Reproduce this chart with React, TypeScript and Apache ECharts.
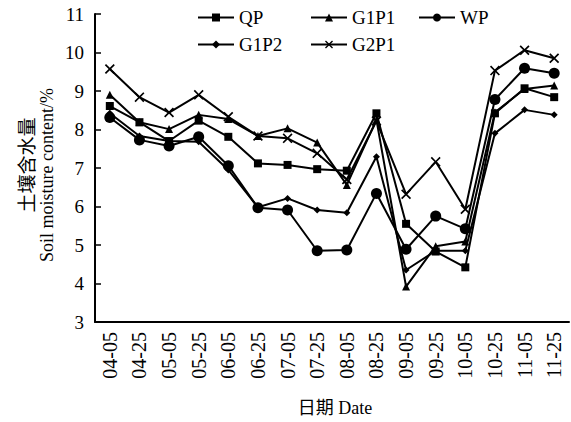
import React, { useEffect, useRef } from "react";
import * as echarts from "echarts";

const categories = ["04-05","04-25","05-05","05-25","06-05","06-25","07-05","07-25","08-05","08-25","09-05","09-25","10-05","10-25","11-05","11-25"];
const qp = [8.61, 8.19, 7.70, 8.23, 7.81, 7.12, 7.08, 6.97, 6.93, 8.42, 5.55, 4.83, 4.42, 8.42, 9.07, 8.84];
const g1p1 = [8.90, 8.19, 8.01, 8.38, 8.27, 7.83, 8.03, 7.66, 6.56, 8.25, 3.92, 4.97, 5.09, 8.45, 9.05, 9.14];
const wp = [8.31, 7.73, 7.57, 7.81, 7.06, 5.97, 5.91, 4.85, 4.87, 6.34, 4.89, 5.75, 5.42, 8.78, 9.59, 9.46];
const g1p2 = [8.42, 7.83, 7.70, 7.68, 6.95, 5.98, 6.21, 5.91, 5.84, 7.29, 4.35, 4.85, 4.85, 7.90, 8.51, 8.38];
const g2p1 = [9.57, 8.84, 8.44, 8.90, 8.33, 7.83, 7.77, 7.38, 6.70, 8.22, 6.32, 7.16, 5.93, 9.53, 10.06, 9.85];
const yTicks = [3, 4, 5, 6, 7, 8, 9, 10, 11];

const SERIF = "'Liberation Serif', 'DejaVu Serif', serif";
const CJK = "'Liberation Serif', 'Noto Sans CJK SC', serif";
const CROSS = "path://M0,1.2L1.2,0L5,3.8L8.8,0L10,1.2L6.2,5L10,8.8L8.8,10L5,6.2L1.2,10L0,8.8L3.8,5Z";

export default function App() {
  const ref = useRef<HTMLDivElement>(null);
  useEffect(() => {
    const chart = echarts.init(ref.current!, null, { renderer: "svg" });
    const mk = (name: string, data: number[], symbol: string, size: number) => ({
      name,
      type: "line",
      data,
      symbol,
      symbolSize: size,
      showAllSymbol: true,
      lineStyle: { color: "#000", width: 2 },
      itemStyle: { color: "#000" },
      z: 3,
    });
    const legendBase = {
      itemWidth: 36,
      itemHeight: 10,
      itemGap: 5,
      textStyle: { fontFamily: SERIF, fontSize: 19, color: "#000" },
      selectedMode: false as const,
      padding: 0,
    };
    chart.setOption({
      animation: false,
      backgroundColor: "#fff",
      grid: { left: 95, right: 2, top: 14, bottom: 100, containLabel: false },
      legend: [
        { ...legendBase, data: ["QP"], left: 197, top: 8 },
        { ...legendBase, data: ["G1P1"], left: 310, top: 8 },
        { ...legendBase, data: ["WP"], left: 418, top: 8 },
        { ...legendBase, data: ["G1P2"], left: 197, top: 35 },
        { ...legendBase, data: ["G2P1"], left: 310, top: 35 },
      ],
      xAxis: {
        type: "category",
        data: categories,
        boundaryGap: true,
        axisLine: { lineStyle: { color: "#000", width: 2 } },
        axisTick: { inside: true, length: 6, lineStyle: { color: "#000", width: 1.5 }, alignWithLabel: false },
        axisLabel: { rotate: 90, interval: 0, fontFamily: SERIF, fontSize: 20, color: "#000", margin: 10 },
        splitLine: { show: false },
      },
      yAxis: {
        type: "value",
        min: yTicks[0],
        max: yTicks[yTicks.length - 1],
        interval: 1,
        axisLine: { show: true, lineStyle: { color: "#000", width: 2 } },
        axisTick: { show: true, inside: true, length: 6, lineStyle: { color: "#000", width: 1.5 } },
        axisLabel: { fontFamily: SERIF, fontSize: 19, color: "#000", margin: 11 },
        splitLine: { show: false },
      },
      graphic: [
        {
          type: "text",
          x: 25,
          y: 165,
          rotation: Math.PI / 2,
          style: { text: "土壤含水量", font: "19px 'Noto Sans CJK SC'", fill: "#000", textAlign: "center", textVerticalAlign: "middle" },
        },
        {
          type: "text",
          x: 47,
          y: 175,
          rotation: Math.PI / 2,
          style: { text: "Soil moisture content/%", font: `18px ${SERIF}`, fill: "#000", textAlign: "center", textVerticalAlign: "middle" },
        },
        {
          type: "text",
          x: 335,
          y: 408,
          style: { text: "日期 Date", font: `18px ${CJK}`, fill: "#000", textAlign: "center", textVerticalAlign: "middle" },
        },
      ],
      series: [
        mk("QP", qp, "rect", 8),
        mk("G1P1", g1p1, "triangle", 8),
        mk("WP", wp, "circle", 11),
        mk("G1P2", g1p2, "diamond", 7),
        mk("G2P1", g2p1, CROSS, 10),
      ],
    });
    return () => chart.dispose();
  }, []);
  return <div ref={ref} style={{ position: "absolute", left: 0, top: 0, width: 571, height: 422 }} />;
}
